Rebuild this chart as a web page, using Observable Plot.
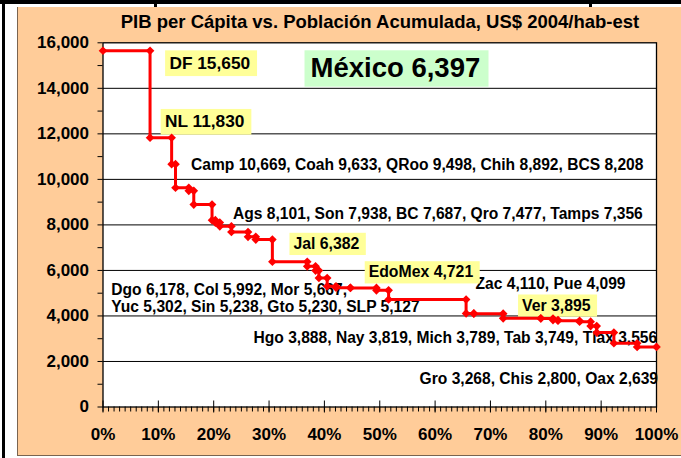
<!DOCTYPE html>
<html>
<head>
<meta charset="utf-8">
<script src="https://cdn.jsdelivr.net/npm/d3@7"></script>
<script src="https://cdn.jsdelivr.net/npm/@observablehq/plot@0.6"></script>
<style>
  html, body { margin: 0; padding: 0; background: #ffffff; }
  body { position: relative; width: 681px; height: 458px; overflow: hidden;
         font-family: Arial, "Liberation Sans", sans-serif; }
  #barTop { position: absolute; left: 0; top: 0; width: 681px; height: 4px; background: #000; }
  #barLeft { position: absolute; left: 2px; top: 0; width: 3px; height: 458px; background: #000; }
  .notch { position: absolute; top: 0; width: 3px; height: 7px; background: #000; }
  #panel { position: absolute; left: 17px; top: 7px; width: 664px; height: 449px;
           background: #FFCC99; border-left: 1px solid #7a6450; border-bottom: 1px solid #7a6450; box-sizing: border-box; }
  #title { position: absolute; left: 0; width: 760px; top: 12px; text-align: center;
           font-weight: bold; font-size: 18.5px; line-height: 20px; white-space: nowrap; color: #000; }
  #chart { position: absolute; left: 0; top: 0; }
</style>
</head>
<body>
<div id="barTop"></div>
<div id="barLeft"></div>
<div class="notch" style="left:154px"></div>
<div class="notch" style="left:589px"></div>
<div id="panel"></div>
<div id="title">PIB per Cápita vs. Población Acumulada, US$ 2004/hab-est</div>
<div id="chart"></div>
<script>
// ---- Data: states sorted by GDP per capita (US$ 2004 per inhabitant) ----
const states = ["DF","NL","Camp","Coah","QRoo","Chih","BCS","Ags","Son","BC","Qro","Tamps",
  "Jal","Dgo","Col","Mor","Yuc","Sin","Gto","SLP","EdoMex","Zac","Pue","Ver",
  "Hgo","Nay","Mich","Tab","Tlax","Gro","Chis","Oax"];
const gdpPerCapita = [15650, 11830, 10669, 9633, 9498, 8892, 8208, 8101, 7938, 7687, 7477, 7356,
  6382, 6178, 5992, 5667, 5302, 5238, 5230, 5127, 4721, 4110, 4099, 3895,
  3888, 3819, 3789, 3749, 3556, 3268, 2800, 2639];
// cumulative population share (%) at the end of each state
const cumPopulation = [8.5, 12.4, 13.1, 15.5, 16.4, 19.7, 20.3, 21.1, 23.2, 26.2, 27.6, 30.6,
  36.9, 38.4, 39.0, 40.5, 42.1, 44.7, 49.4, 51.6, 65.6, 67.0, 72.3, 79.1,
  81.3, 82.2, 86.1, 88.1, 89.2, 92.3, 96.5, 100];

// ---- Ticks ----
const yTicks = [0, 2000, 4000, 6000, 8000, 10000, 12000, 14000, 16000];
const yMinorTicks = [0, 1000, 2000, 3000, 4000, 5000, 6000, 7000, 8000, 9000, 10000, 11000, 12000, 13000, 14000, 15000, 16000];
const xTicks = [0, 10, 20, 30, 40, 50, 60, 70, 80, 90, 100];
const xMinorTicks = d3.range(0, 101, 1);
const gridY = [2000, 4000, 6000, 8000, 10000, 12000, 14000];

// ---- Annotations (label, anchor in data units, kind) ----
const annLabels = ["DF 15,650", "México 6,397", "NL 11,830",
  "Camp 10,669, Coah 9,633, QRoo 9,498, Chih 8,892, BCS 8,208",
  "Ags 8,101, Son 7,938, BC 7,687, Qro 7,477, Tamps 7,356",
  "Jal 6,382",
  "Dgo 6,178, Col 5,992, Mor 5,667,",
  "Yuc 5,302, Sin 5,238, Gto 5,230, SLP 5,127",
  "EdoMex 4,721",
  "Zac 4,110, Pue 4,099",
  "Ver 3,895",
  "Hgo 3,888, Nay 3,819, Mich 3,789, Tab 3,749, Tlax 3,556",
  "Gro 3,268, Chis 2,800, Oax 2,639"];
const annX = [12.0, 37.5, 11.2, 15.9, 23.5, 34.4, 1.5, 1.5, 48.0, 67.3, 75.7, 27.2, 57.2];
const annY = [15110, 14880, 12535, 10610, 8480, 7170, 5120, 4385, 5922, 5410, 4460, 3025, 1240];
const annKind = ["lead","national","lead","group","group","state","group","group","state","group","state","group","group"];

// ---- Build step points ----
const steps = states.flatMap((s, i) => [
  {state: s, x: i === 0 ? 0 : cumPopulation[i - 1], y: gdpPerCapita[i]},
  {state: s, x: cumPopulation[i], y: gdpPerCapita[i]}
]);
const ann = annLabels.map((t, i) => ({text: t, x: annX[i], y: annY[i], kind: annKind[i]}));

const fontSizes = {lead: 17.3, state: 15.8, group: 15.6, national: 27.5};
const boxFill = {lead: "#FFFF99", state: "#FFFF99", national: "#CCFFCC"};
const red = "#FF0000";

const textMark = kind => Plot.text(ann.filter(d => d.kind === kind),
  {x: "x", y: "y", text: "text", textAnchor: "start", fontSize: fontSizes[kind], fill: "#000"});

const chart = Plot.plot({
  width: 681,
  height: 458,
  marginLeft: 102.5,
  marginRight: 25,
  marginTop: 42.3,
  marginBottom: 51.5,
  x: {domain: [0, 100], label: null},
  y: {domain: [0, 16000], label: null},
  style: {background: "transparent", fontFamily: "Arial, 'Liberation Sans', sans-serif",
          fontWeight: "bold", color: "#000", overflow: "visible"},
  marks: [
    Plot.frame({fill: "white", stroke: "none"}),
    Plot.ruleY(gridY, {stroke: "#000", strokeWidth: 1}),
    Plot.axisY({ticks: yMinorTicks, tickSize: 5, tickFormat: () => ""}),
    Plot.axisY({ticks: yTicks, tickSize: 0, tickPadding: 14, tickFormat: d3.format(","), fontSize: 17}),
    Plot.axisX({ticks: xMinorTicks, tickSize: 5, tickFormat: () => ""}),
    Plot.ruleX(xTicks, {x: d => d, y1: 0, y2: 0, insetTop: -6, insetBottom: -6, stroke: "#000"}),
    Plot.axisX({ticks: xTicks, tickSize: 0, tickPadding: 20.5, tickFormat: d => d + "%", fontSize: 17}),
    Plot.frame({stroke: "#000", strokeWidth: 1.3}),
    textMark("group"),
    textMark("state"),
    textMark("lead"),
    textMark("national"),
    Plot.line(steps, {x: "x", y: "y", stroke: red, strokeWidth: 3, curve: "linear"}),
    Plot.dot(steps, {x: "x", y: "y", symbol: "diamond2", r: 3.9, fill: red, stroke: "none"})
  ]
});
document.getElementById("chart").appendChild(chart);

// background boxes behind highlighted labels
chart.querySelectorAll("text").forEach(t => {
  const a = ann.find(d => d.text === t.textContent);
  if (!a || !boxFill[a.kind]) return;
  const b = t.getBBox();
  const fs = fontSizes[a.kind];
  const pad = a.kind === "national" ? [0.22, 0.3, 0.065, 0.13] : [0.25, 0.4, 0.13, 0.2];
  const r = document.createElementNS("http://www.w3.org/2000/svg", "rect");
  r.setAttribute("x", b.x - pad[0] * fs);
  r.setAttribute("y", b.y - pad[2] * fs);
  r.setAttribute("width", b.width + (pad[0] + pad[1]) * fs);
  r.setAttribute("height", b.height + (pad[2] + pad[3]) * fs);
  r.setAttribute("fill", boxFill[a.kind]);
  if (t.getAttribute("transform")) r.setAttribute("transform", t.getAttribute("transform"));
  t.parentNode.insertBefore(r, t);
});
</script>
</body>
</html>
